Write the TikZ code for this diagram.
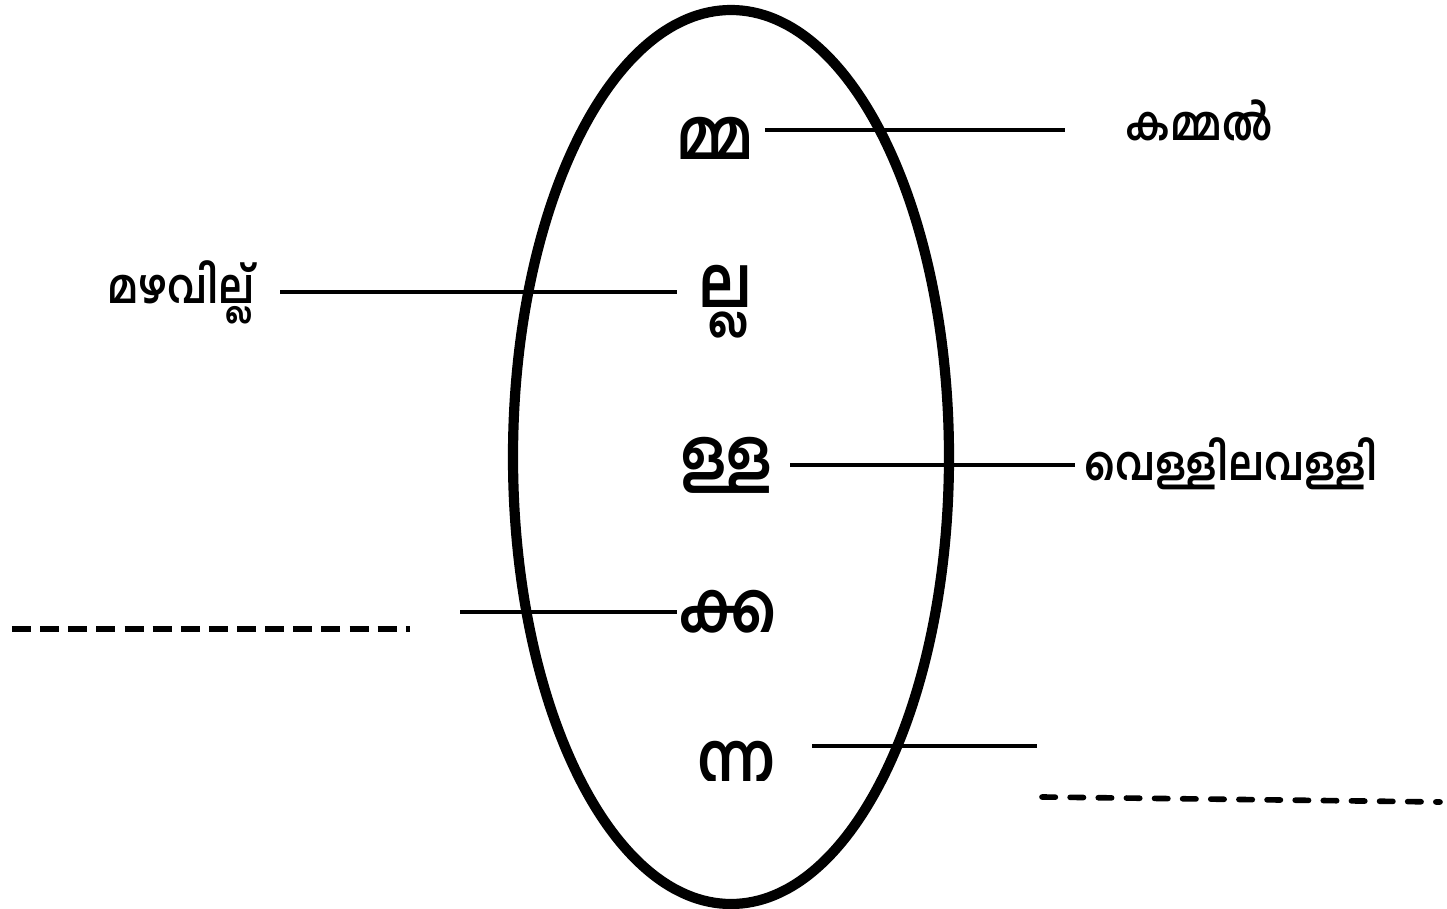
\documentclass[tikz,border=0pt]{standalone}
\usepackage{fontspec}
\newfontfamily\mlfont[Script=Malayalam,FakeStretch=0.85]{Hind Kochi}
\usetikzlibrary{calc}

\tikzset{
  akshara/.style={font=\mlfont\bfseries\fontsize{20}{20}\selectfont,inner sep=0pt},
  vakku/.style={font=\mlfont\bfseries\fontsize{13.4}{14}\selectfont,inner sep=0pt},
  varaline/.style={line width=1.3pt},
  vitt/.style={line width=1.6pt,dash pattern=on 5.4pt off 2.6pt}
}

\begin{document}
\begin{tikzpicture}[x=0.01cm,y=-0.01cm]
\useasboundingbox (0,0) rectangle (1447,909);
\draw[line width=2.9pt] (731,457) ellipse [x radius=218,y radius=447];
% aksharangal
\node[akshara] (mma) at (715,138) {മ്മ};
\node[akshara] (lla) at (725,302) {ല്ല};
\node[akshara] (lla2) at (727,465) {ള്ള};
\node[akshara] (kka) at (728,612) {ക്ക};
\begin{scope}
  \clip (650,700) rectangle (820,780);
  \node[akshara] (nna) at (737,762) {ന്ന};
\end{scope}
% vakkukal
\node[vakku] (kammal) at (1199,120) {കമ്മൽ};
\node[vakku] (mazha) at (181,292) {മഴവില്ല്};
\node[vakku] (velli) at (1231,464) {വെള്ളിലവള്ളി};
% varakal
\coordinate (a1) at (765,130); \coordinate (a2) at (1065,130);
\coordinate (b1) at (280,292); \coordinate (b2) at (677,292);
\coordinate (c1) at (790,465); \coordinate (c2) at (1075,465);
\coordinate (d1) at (460,612); \coordinate (d2) at (677,612);
\coordinate (e1) at (812,746); \coordinate (e2) at (1037,746);
\foreach \p in {a,b,c,d,e}{
  \draw[varaline] (\p1) -- (\p2);
}
\coordinate (f1) at (12,629); \coordinate (f2) at (410,629);
\coordinate (g1) at (1042,797); \coordinate (g2) at (1440,802);
\draw[vitt] (f1) -- (f2);
\draw[vitt,line cap=round,dash pattern=on 3.8pt off 4.2pt] (g1) -- (g2);
\end{tikzpicture}
\end{document}
